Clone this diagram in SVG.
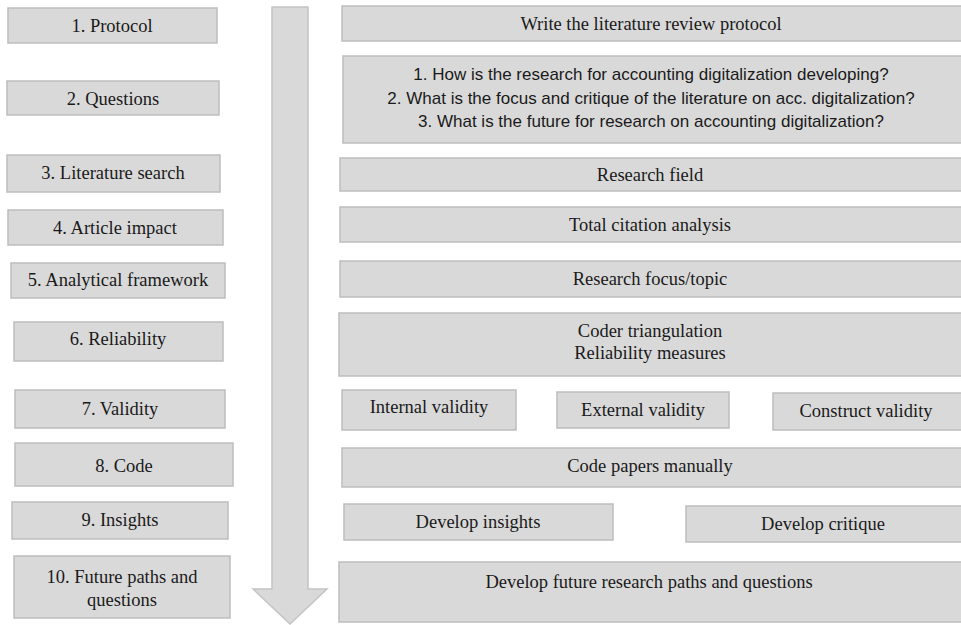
<svg xmlns="http://www.w3.org/2000/svg" width="961" height="625" viewBox="0 0 961 625">
<style>
.b{fill:#d9d9d9;stroke:#bdbdbd;stroke-width:1.5}
.t{font-family:"Liberation Serif","Times New Roman",serif;font-size:18.5px;fill:#1a1a1a;text-anchor:middle}
.s{font-family:"Liberation Sans",Arial,sans-serif;font-size:17px;fill:#1a1a1a;text-anchor:middle}
</style>
<rect width="961" height="625" fill="#ffffff"/>
<g id="connectors">
<path d="M272 7 H308 V589 H327 L290 624 L253 589 H272 Z" fill="#d9d9d9" stroke="#c4c4c4" stroke-width="1.5"/>
</g>
<g id="step1"><rect class="b" x="8" y="8" width="209" height="35"/><text class="t" x="112" y="32">1. Protocol</text></g>
<g id="step2"><rect class="b" x="7" y="81" width="212" height="34"/><text class="t" x="113" y="105">2. Questions</text></g>
<g id="step3"><rect class="b" x="7" y="155" width="213" height="37"/><text class="t" x="113" y="179">3. Literature search</text></g>
<g id="step4"><rect class="b" x="8" y="210" width="215" height="35"/><text class="t" x="115" y="234">4. Article impact</text></g>
<g id="step5"><rect class="b" x="11" y="263" width="214" height="35"/><text class="t" x="118" y="286">5. Analytical framework</text></g>
<g id="step6"><rect class="b" x="14" y="322" width="209" height="39"/><text class="t" x="118" y="345">6. Reliability</text></g>
<g id="step7"><rect class="b" x="15" y="390" width="210" height="38"/><text class="t" x="120" y="415">7. Validity</text></g>
<g id="step8"><rect class="b" x="15" y="443" width="218" height="43"/><text class="t" x="124" y="472">8. Code</text></g>
<g id="step9"><rect class="b" x="12" y="502" width="216" height="37"/><text class="t" x="120" y="526">9. Insights</text></g>
<g id="step10"><rect class="b" x="14" y="556" width="216" height="62"/><text class="t" x="122" y="583">10. Future paths and</text><text class="t" x="122" y="606">questions</text></g>
<g id="protocol"><rect class="b" x="342" y="6" width="622" height="35"/><text class="t" x="651" y="30">Write the literature review protocol</text></g>
<g id="questions"><rect class="b" x="343" y="56" width="621" height="87"/>
<text class="s" x="651" y="80">1. How is the research for accounting digitalization developing?</text>
<text class="s" x="651" y="104">2. What is the focus and critique of the literature on acc. digitalization?</text>
<text class="s" x="651" y="127">3. What is the future for research on accounting digitalization?</text></g>
<g id="field"><rect class="b" x="340" y="158" width="624" height="33"/><text class="t" x="650" y="181">Research field</text></g>
<g id="citation"><rect class="b" x="340" y="207" width="624" height="35"/><text class="t" x="650" y="231">Total citation analysis</text></g>
<g id="focus"><rect class="b" x="340" y="261" width="624" height="36"/><text class="t" x="650" y="285">Research focus/topic</text></g>
<g id="coder"><rect class="b" x="339" y="313" width="625" height="63" stroke="#b3b3b3" stroke-width="2"/><text class="t" x="650" y="337">Coder triangulation</text><text class="t" x="650" y="359">Reliability measures</text></g>
<g id="internal"><rect class="b" x="342" y="390" width="174" height="40"/><text class="t" x="429" y="413">Internal validity</text></g>
<g id="external"><rect class="b" x="557" y="392" width="172" height="36"/><text class="t" x="643" y="416">External validity</text></g>
<g id="construct"><rect class="b" x="773" y="393" width="191" height="37"/><text class="t" x="866" y="417">Construct validity</text></g>
<g id="codepapers"><rect class="b" x="342" y="448" width="622" height="39"/><text class="t" x="650" y="472">Code papers manually</text></g>
<g id="insights"><rect class="b" x="344" y="504" width="269" height="36"/><text class="t" x="478" y="528">Develop insights</text></g>
<g id="critique"><rect class="b" x="686" y="506" width="278" height="36"/><text class="t" x="823" y="530">Develop critique</text></g>
<g id="future"><rect class="b" x="339" y="562" width="625" height="60"/><text class="t" x="649" y="588">Develop future research paths and questions</text></g>
</svg>
